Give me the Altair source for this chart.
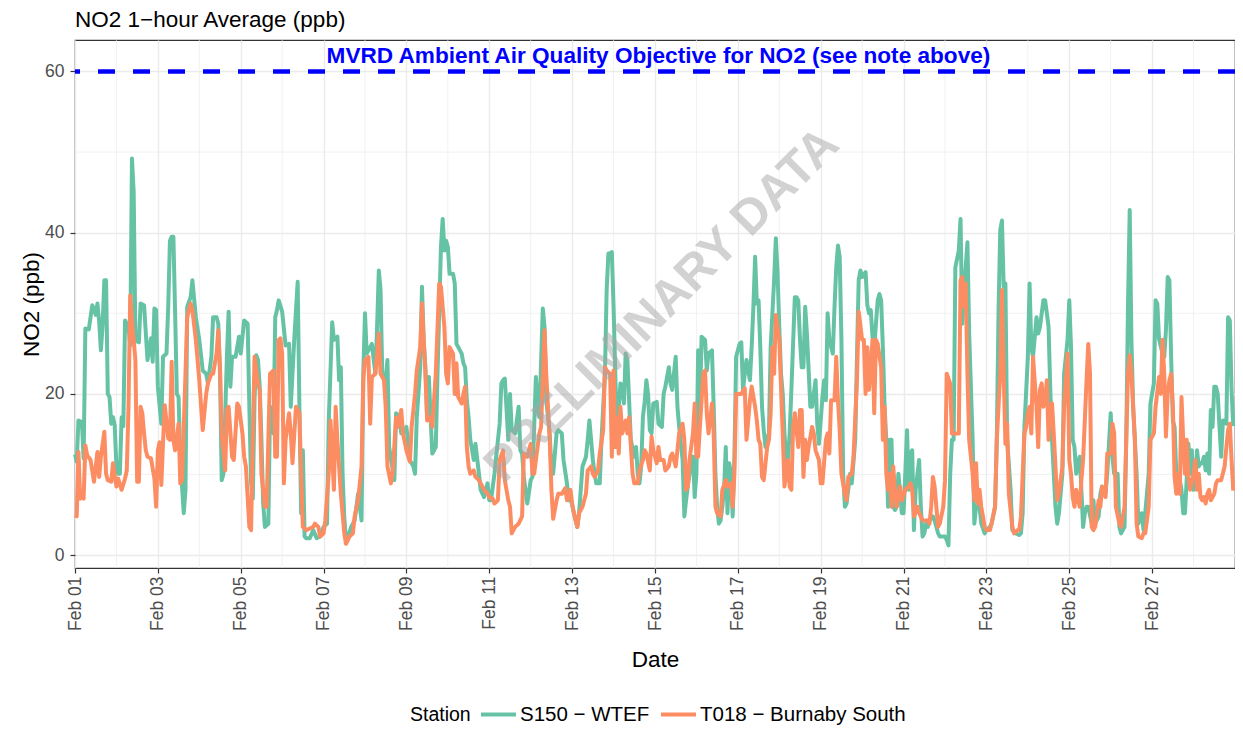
import altair as alt
import pandas as pd

# ---------------- data ----------------
station_names = ["S150 − WTEF", "T018 − Burnaby South"]
station_colors = ["#66C2A5", "#FC8D62"]

# hours since Feb 01 00:00, and NO2 (ppb)
s150_hours = [0, 1, 2, 4, 5, 6, 8, 10, 11, 12, 13, 14, 15, 16, 17, 18, 19, 20, 21, 22, 23, 24, 25, 26, 27, 28, 29, 31, 32, 33, 34, 35, 37, 38, 40, 42, 44, 45, 46, 47, 48, 50, 51, 53, 54, 55, 56,
              57, 58, 59, 60, 61, 63, 64, 65, 67, 68, 70, 72, 74, 76, 77, 79, 80, 82, 83, 84, 85, 86, 88, 89, 90, 91, 93, 94, 95, 96, 98, 100, 101, 102, 103, 104, 105, 106, 107, 108, 109, 110, 112, 113, 114, 115, 116, 117, 118, 120,
              122, 124, 125, 126, 127, 129, 130, 131, 132, 133, 134, 136, 138, 140, 142, 144, 146, 147, 149, 150, 152, 153, 154, 155, 156, 157, 158, 160, 162, 164, 166, 167, 168, 169, 170, 172, 174, 175, 176, 177, 178, 180, 181, 182, 183,
              185, 186, 188, 189, 191, 192, 194, 196, 197, 198, 200, 201, 202, 203, 204, 205, 206, 207, 209, 210, 212, 213, 214, 215, 216, 217, 219, 220, 221, 222, 224, 225, 226, 227, 228, 229, 231, 232, 234, 235, 237, 239, 240, 241, 243, 244, 246, 247,
              248, 249, 251, 252, 253, 255, 257, 258, 259, 260, 262, 264, 265, 267, 268, 269, 271, 272, 273, 275, 276, 277, 279, 280, 282, 283, 285, 286, 287, 289, 291, 292, 294, 296, 297, 298, 300, 301, 302, 304, 305, 307, 308, 309, 310,
              311, 312, 313, 314, 315, 316, 317, 318, 319, 320, 321, 322, 324, 325, 326, 327, 328, 329, 330, 331, 332, 333, 334, 335, 337, 338, 340, 341, 342, 344, 345, 346, 348, 349, 350, 352, 353, 354, 355, 356, 358, 359, 360, 361, 362, 363, 365, 366, 367, 369, 370, 371, 372, 373, 374,
              375, 376, 377, 378, 379, 380, 381, 382, 383, 385, 386, 387, 388, 389, 390, 391, 392, 393, 394, 395, 396, 397, 398, 399, 400, 401, 402, 403, 405, 406, 407, 408, 409, 410, 411, 412, 413, 414, 415, 417, 418, 419, 420, 421, 422, 423, 424, 426, 427, 429, 430, 431, 433, 434, 435, 436, 437,
              439, 440, 441, 442, 443, 444, 445, 446, 447, 449, 450, 452, 453, 454, 455, 456, 458, 459, 460, 461, 462, 463, 465, 466, 467, 468, 469, 470, 471, 472, 473, 474, 475, 476, 477, 479, 480, 481, 482, 483, 484, 485, 486, 487, 489, 490, 491, 492, 493, 494, 495, 497, 498, 500, 501,
              502, 504, 505, 506, 507, 508, 509, 510, 512, 513, 514, 516, 517, 518, 520, 521, 522, 524, 525, 527, 528, 530, 531, 533, 534, 535, 536, 537, 538, 539, 540, 542, 543, 545, 547, 548, 549, 550, 552, 553, 554, 555, 557, 558, 559, 561, 562, 563, 564,
              565, 566, 568, 569, 570, 572, 573, 575, 576, 577, 578, 579, 580, 582, 583, 584, 585, 586, 587, 589, 590, 591, 593, 594, 595, 597, 598, 600, 601, 602, 604, 605, 606, 608, 609, 610, 611, 612, 613, 615, 616, 618, 619, 620, 622, 623, 625, 626, 627,
              628, 630, 631, 632, 633, 634, 635, 636, 637, 638, 639, 640, 641, 642, 643, 644, 645, 646, 647, 648, 649, 650, 651, 652, 653, 654, 655, 656, 657, 658, 659, 660, 661, 662, 663, 664, 665, 666, 667, 668, 669, 670, 671]
s150_no2 = [12.5, 11.6, 16.7, 16.5, 12, 28.1, 28, 31, 30.5, 29.8, 31.2, 29, 25.4, 28.5, 34.1, 34.1, 20, 19.6, 16.3, 17.1, 16.1, 11, 10.1, 10.1, 17.1, 16, 29.1, 28.3, 26, 49.2, 45, 26.6, 26.4, 31.2, 31, 24.2, 26.9, 24, 30.6, 30.4, 20.9, 16.3, 24.6, 25, 30.8, 39, 39.5,
            39.5, 30, 20, 19.6, 12, 5.2, 8, 30.8, 32, 34.1, 29.5, 26.7, 22.9, 22.5, 21.3, 24.6, 29.5, 29.5, 28.7, 22.5, 9.3, 10.1, 24.6, 30.2, 20.9, 24.6, 24.6, 25.8, 27.1, 25, 29.1, 28.7, 18.4, 9, 7, 19.2, 24.8, 24.2, 21, 14.3, 6.5, 3.5, 3.9, 18.4, 16, 15.1, 29.5, 30.4, 31.6, 30.2,
            26, 26.2, 18.4, 22.5, 26.7, 33.9, 18.4, 5.2, 13, 2.3, 2.1, 2.1, 3.1, 2.1, 2.3, 3.5, 3.9, 16.7, 28.9, 26.7, 27.1, 21.7, 23.3, 10.1, 4.6, 1.9, 2.1, 3.5, 4.3, 7.6, 4.3, 22.5, 30, 25, 25.4, 26.2, 22.5, 28.3, 35.3, 32.9, 22.5, 21.7, 24.2, 13.4, 12,
            9.3, 17.6, 17.1, 15.1, 15.5, 15.9, 11.8, 11, 10.1, 17.1, 23.3, 33.3, 26.7, 23.3, 17.1, 22.1, 17.1, 12.6, 13.4, 22.5, 38.2, 41.7, 37.8, 39, 38.2, 34.9, 34.9, 33.7, 26.2, 25.8, 25, 23.8, 23.3, 19.2, 17.1, 14.3, 11.8, 13.8, 10.1, 8.1, 7.2, 8.9, 6.8, 6.8, 10.1, 12.2, 16.3, 21.3,
            21.7, 21.9, 14.3, 20, 15.5, 15.1, 18.4, 13, 12.6, 9.7, 6.4, 9.3, 9.7, 22.1, 18.4, 17.1, 30.6, 28.3, 19.2, 15.1, 10.5, 10.1, 15.1, 15.5, 15.1, 11.8, 8.9, 6.8, 7.2, 5.2, 3.5, 5.2, 11, 12.2, 14.3, 16.7, 11.8, 10.1, 8.9, 8.9, 14.3, 22.5, 32.9, 37.4, 37.4,
            37.6, 30.8, 22.5, 14.3, 18.4, 21.3, 21, 18.8, 25, 24.2, 19.2, 14.3, 12.2, 13.4, 10.1, 8.9, 11, 17.1, 19, 21.7, 20, 15.5, 15.1, 18.8, 19, 16.3, 15.9, 20, 20.9, 23.3, 21.3, 20.5, 24.6, 18.4, 15.9, 11.8, 4.8, 6.8, 8.5, 10.1, 12.2, 7.2, 10.1, 25.4, 18.4, 27.1, 26.7, 22.9, 25, 25.4, 18.4, 10.1, 6, 3.9, 4.3,
            6, 8.1, 13.4, 5.2, 11.4, 10.1, 4.8, 12, 24.6, 26.2, 26.4, 20.5, 22.5, 24.2, 22.9, 21.7, 25.8, 30.8, 37, 31.2, 31.6, 25.8, 18.4, 15.5, 13.4, 14.3, 15.1, 25.8, 34.1, 39.3, 35, 28.3, 22.5, 20, 15.1, 11.8, 11.8, 15.1, 20.5, 32, 32, 31.6, 26.7, 23.3, 23.3, 30.8, 27.5, 18.4, 18.4, 21.7, 16.3, 13.8, 19.6, 21.7, 19.2, 30, 26.7,
            25, 30.8, 35.7, 38.4, 37, 26.7, 10.1, 6, 6.4, 10.1, 8.9, 14.3, 24.6, 34.1, 35.3, 34.5, 35.1, 31, 30, 30.4, 27.1, 25.8, 31.6, 32.4, 31.6, 25.8, 18.4, 14.3, 6, 14.3, 14.3, 6, 5.6, 6, 10.1, 5.2, 5.2, 10.1, 15.5, 8.1, 12.6, 13, 3.1, 8.1, 11.8, 6, 2.3, 2.7, 3.9, 3.5, 4.3, 4.8, 4.3, 2.7, 2.3,
            2.3, 2.3, 1.9, 1.2, 10, 14.3, 14.3, 35.7, 37.8, 41.7, 28.7, 35.7, 38.8, 27.5, 14.3, 3.9, 6, 6, 3.9, 2.7, 3.1, 3.5, 3.9, 6, 14.3, 30, 40.3, 41.5, 33.3, 33.7, 14.3, 8.1, 3.1, 2.7, 2.5, 2.7, 5.2, 15.9, 24.6, 33.7, 25.8, 24.6, 29.5, 27.5, 28.3, 31.6, 31.6, 30, 28.3,
            20.5, 14.3, 6, 3.9, 5.2, 10.1, 22.5, 26.7, 31.6, 25.8, 14.3, 13.4, 10.1, 12.2, 8.1, 3.5, 5.2, 6, 6, 3.9, 6.8, 3.9, 4.8, 7.6, 8.5, 7.6, 10.1, 17.6, 12.2, 10.1, 10.1, 3.5, 2.7, 3.5, 14.3, 30.8, 42.8, 26.7, 18.4, 10.1, 3.9, 5.2, 3.1, 5.2, 10.1, 18.8, 21.3, 31.6, 31.2,
            26.8, 25, 24.6, 27.9, 34.5, 34.1, 24.6, 16.7, 15.9, 10.1, 9.3, 9.3, 8.1, 5.2, 5.2, 9.3, 13.8, 10.1, 13, 8.1, 8.5, 13, 11, 11.4, 11.4, 12.2, 10.5, 12.6, 10.1, 18, 15.9, 20.9, 20.9, 20, 15.9, 12.2, 16.7, 16.7, 16.3, 29.5, 29.1, 20.5, 16]

t018_hours = [0, 1, 2, 3, 4, 5, 6, 7, 9, 11, 13, 14, 15, 17, 18, 19, 21, 22, 24, 25, 27, 29, 30, 31, 32, 33, 35, 36, 37, 38, 39, 40, 41, 42, 44, 46, 47, 48, 49, 50, 51, 52, 54, 55, 56,
              57, 58, 60, 61, 62, 64, 65, 67, 68, 70, 72, 74, 76, 77, 79, 80, 82, 83, 84, 85, 87, 88, 89, 91, 92, 94, 95, 97, 98, 99, 101, 102, 103, 104, 106, 107, 108, 110, 111, 113, 115, 116, 117, 118, 119, 120,
              121, 122, 124, 125, 126, 128, 130, 131, 132, 134, 136, 138, 139, 141, 142, 144, 145, 147, 148, 150, 151, 152, 154, 156, 157, 159, 161, 162, 164, 166, 167, 168, 170, 171, 172, 174, 175, 176, 177, 179, 180, 181,
              183, 184, 186, 187, 189, 190, 192, 194, 195, 197, 198, 200, 201, 202, 203, 204, 206, 207, 209, 211, 212, 214, 215, 216, 217, 219, 220, 221, 222, 224, 225, 226, 227, 228, 229, 231, 232, 234, 235, 237, 239, 240, 242, 243, 245, 246, 248,
              249, 251, 252, 253, 255, 257, 259, 260, 262, 264, 265, 266, 267, 269, 270, 272, 273, 275, 276, 277, 279, 280, 282, 284, 285, 287, 288, 289, 291, 292, 294, 296, 297, 299, 300, 301, 303, 304, 306, 307, 308, 310, 311,
              312, 313, 314, 315, 316, 317, 319, 320, 321, 323, 324, 326, 327, 329, 330, 331, 333, 334, 335, 337, 338, 339, 341, 342, 344, 345, 346, 348, 349, 350, 352, 353, 354, 355, 356, 358, 359, 360, 361, 362, 364, 365, 366, 367, 369, 370, 371, 372, 374,
              375, 377, 378, 380, 381, 382, 383, 385, 386, 388, 389, 391, 392, 394, 395, 396, 397, 398, 399, 401, 402, 403, 404, 405, 406, 407, 408, 409, 410, 411, 412, 413, 414, 415, 416, 417, 419, 420, 421, 422, 423, 424, 425, 427, 428, 429, 431, 432, 433, 435, 436, 437,
              438, 440, 441, 442, 443, 444, 446, 447, 448, 450, 451, 453, 454, 456, 457, 458, 459, 460, 461, 462, 463, 464, 465, 467, 468, 469, 470, 471, 472, 473, 474, 475, 476, 478, 479, 481, 483, 484, 485, 486, 488, 489, 491, 492, 494, 495, 496, 497, 498, 500, 501,
              503, 504, 505, 507, 508, 510, 511, 512, 513, 514, 515, 516, 517, 518, 520, 521, 522, 523, 524, 525, 527, 528, 530, 531, 533, 534, 536, 537, 538, 539, 540, 541, 543, 544, 546, 547, 548, 550, 551, 552, 553, 554, 555, 557, 558, 559, 560, 561, 562, 563, 564,
              565, 566, 567, 569, 570, 572, 573, 575, 576, 577, 578, 579, 580, 582, 583, 584, 586, 587, 588, 589, 590, 591, 593, 594, 595, 597, 598, 600, 601, 602, 603, 605, 606, 608, 609, 610, 611, 612, 614, 615, 616, 618, 619, 620, 622, 623, 625, 626, 628,
              629, 630, 631, 632, 633, 634, 635, 636, 637, 638, 639, 640, 641, 642, 643, 644, 645, 646, 648, 649, 650, 651, 652, 653, 654, 655, 656, 657, 658, 660, 661, 662, 663, 664, 666, 667, 668, 669, 670, 671]
t018_no2 = [5, 4.8, 12.8, 7, 7.6, 7, 13.6, 12.4, 11.8, 9.1, 12.8, 9.7, 12.2, 15.3, 10.1, 9.3, 9.1, 11.4, 8.5, 9.5, 8.1, 9.5, 10.5, 18.4, 32.2, 29.1, 24.2, 9.1, 9.1, 18.4, 17.6, 15.1, 13, 12.2, 12, 9.5, 6, 13, 14, 8.7, 14, 18.6, 14.5, 14.3, 24,
            14.3, 13, 16.3, 8.9, 9.3, 22.5, 29.5, 31.2, 30.4, 26.7, 21.7, 15.5, 20, 21.3, 22.5, 22.5, 25, 27.9, 23.3, 15.1, 10.5, 18, 18.4, 12.2, 11.8, 18.8, 18.4, 15.1, 12.2, 11, 3.5, 3.1, 14.3, 24.6, 21.3, 20.5, 10.1, 6, 6, 22.5, 22.9, 12.2, 12.2, 26.7, 26.9, 25,
            8.9, 14.3, 17.6, 15.1, 11.4, 18.4, 17.6, 10.1, 3.5, 3.1, 3.3, 3.5, 3.9, 3.5, 2.3, 2.7, 4.3, 10.1, 16.7, 8.1, 18.4, 14.3, 7.6, 2.7, 1.4, 2.3, 2.7, 4.8, 6.8, 11, 21.7, 24.2, 24.6, 16.3, 22.1, 22.5, 25, 27.5, 22.5, 21.7, 18.4, 11,
            8.9, 10.1, 17.1, 15.9, 18, 15.1, 13, 11.6, 15.9, 20, 22.9, 25.8, 31.2, 26.7, 22.5, 16.7, 17.1, 15.9, 22.5, 33.7, 33.3, 28.3, 22.5, 21.3, 25.8, 25, 20, 23.8, 19.6, 18.8, 20, 20.9, 13.4, 11, 10.1, 10.5, 9.7, 9.3, 8.9, 8.1, 7.6, 7.2, 7, 6.4, 6.8, 11.8, 13,
            9.3, 6.8, 6, 2.7, 3.5, 3.9, 4.8, 12.6, 12.2, 13.8, 10.1, 10.1, 11.8, 15.1, 15.9, 27.9, 22.5, 14.3, 8.1, 4.5, 6.8, 7.6, 7.6, 8.3, 6.8, 8.1, 6.4, 5.2, 3.5, 5.2, 6, 7.6, 10.5, 11, 10.1, 9.7, 10.5, 12.6, 15.5, 23.3, 22.9, 22.5, 12.2,
            22.9, 13.4, 17.1, 12.6, 18.4, 15.1, 16.7, 15.1, 17.1, 10.1, 8.9, 8.9, 10.5, 11.8, 13, 12.6, 10.5, 14.7, 13, 11.4, 13.4, 11.8, 11.8, 10.5, 11, 12.2, 12.6, 11, 13, 15.1, 16.3, 14.3, 8.1, 8.5, 11.8, 15.1, 18.8, 12.2, 12.2, 15.9, 22.5, 22.9, 17.6, 15.1, 18.8, 15.1, 6, 5.2, 4.8,
            8.1, 9.3, 8.5, 8.9, 6, 10.1, 20, 20, 20, 20.7, 14.3, 19.2, 20.9, 18.4, 16.7, 14.3, 13.8, 9.7, 9.3, 13.4, 14.3, 17.6, 25.8, 22.5, 29.8, 28.3, 26.7, 20.9, 15.1, 8.5, 10.1, 11.8, 8.5, 8.1, 15.9, 17.6, 13.4, 18, 18, 9.7, 14.3, 11.8, 13.4, 15.9, 15.1, 13, 11.8, 8.9, 8.9, 14.3, 15.1, 12.6,
            19.2, 19.2, 24.6, 19.2, 15.5, 10.1, 7.6, 6.8, 9.7, 10.1, 12.2, 21.7, 30.2, 26.7, 26.7, 20, 25.8, 20.5, 23.3, 26.7, 17.6, 26.7, 26.2, 23.3, 14.3, 18.4, 10.1, 8.1, 10.1, 6, 11, 8.1, 6, 8.5, 6.8, 8.1, 8.5, 8.9, 8.1, 4.8, 6, 5.2, 4.3, 4.3, 4.3, 3.9, 6, 9.7, 8.5, 3.5, 3.9,
            6, 9.3, 22.5, 21.3, 15.1, 15.1, 15.1, 15.1, 34.1, 34.5, 30.8, 33.7, 22.5, 14.3, 10.1, 6.8, 11.4, 6.4, 8.1, 6, 3.5, 3.1, 3.1, 3.9, 6, 14.3, 22.5, 32.9, 22.5, 13.8, 16.3, 7.6, 3.5, 2.7, 3.1, 3.1, 4.8, 15.1, 15.9, 17.6, 18.4, 15.1, 24.6, 18.4, 13.4, 20.5, 21.3, 18.4, 19.2, 21.7, 14.3,
            18.4, 18.8, 15.1, 6.8, 7.6, 11, 18.4, 25, 11.8, 10.1, 7.2, 6, 8.1, 6, 9.3, 11.8, 21.7, 26.2, 22.5, 3.5, 3.1, 3.5, 6.8, 6, 8.5, 7.2, 12.6, 12.6, 16.3, 15.1, 6, 3.9, 3.5, 6, 14.3, 22.5, 24.8, 22.5, 14.3, 3.9, 2.3, 2.1, 2.7, 2.7, 6, 14.3, 15.1, 18.4, 22.1,
            20, 26.7, 22.5, 14.7, 20, 21.7, 22.5, 18.4, 9.7, 7.6, 10.1, 7.6, 19.6, 14.3, 10.1, 14.3, 9.7, 8.1, 10.1, 11.8, 8.1, 10.1, 7.2, 6.8, 7.2, 6.4, 7.6, 8.1, 6.8, 7.6, 8.9, 9.3, 9.3, 9.3, 11, 13.4, 15.5, 16.3, 11.8, 8]

major_days = list(range(1, 28, 2))     # labelled ticks: Feb 01 ... Feb 27
minor_days = list(range(2, 29, 2))     # minor grid: Feb 02 ... Feb 28
y_major = [0, 20, 40, 60]
y_minor = [10, 30, 50]
objective_value = [60]
objective_label = "MVRD Ambient Air Quality Objective for NO2 (see note above)"
objective_label_pos = [338, 61.9]      # hours since Feb 01, ppb
watermark_text = "PRELIMINARY DATA"
watermark_pos = [340, 31]              # hours since Feb 01, ppb
chart_title = "NO2 1−hour Average (ppb)"

# ---------------- build tables ----------------
start = pd.Timestamp("2024-02-01")


def hours_to_iso(hours):
    return [(start + pd.Timedelta(hours=h)).strftime("%Y-%m-%dT%H:%M:%S") for h in hours]


def day_iso(d):
    return f"2024-02-{d:02d}T00:00:00"


df_s150 = pd.DataFrame({"time": hours_to_iso(s150_hours), "value": s150_no2, "Station": station_names[0]})
df_t018 = pd.DataFrame({"time": hours_to_iso(t018_hours), "value": t018_no2, "Station": station_names[1]})
df_minor_x = pd.DataFrame({"time": [day_iso(d) for d in minor_days]})
df_minor_y = pd.DataFrame({"value": y_minor})
df_obj = pd.DataFrame({"value": objective_value})
df_obj_label = pd.DataFrame({"time": hours_to_iso([objective_label_pos[0]]), "value": [objective_label_pos[1]], "label": [objective_label]})
df_wm = pd.DataFrame({"time": hours_to_iso([watermark_pos[0]]), "value": [watermark_pos[1]], "label": [watermark_text]})

FONT = "Liberation Sans"
PLOT_W = 1160
PLOT_H = 528

x_axis = alt.Axis(
    values=[alt.DateTime(year=2024, month=2, date=d) for d in major_days],
    format="%b %d", labelAngle=270, labelFontSize=17.5, labelColor="#4D4D4D",
    labelPadding=3, labelFlush=False, labelOverlap=False,
    tickColor="#333333", tickSize=5, tickWidth=1.2, domain=False,
    grid=True, gridColor="#EBEBEB", gridWidth=1.4,
    title="Date", titleFontSize=22.5, titleFontWeight="normal", titleColor="black",
    titleX=PLOT_W / 2, titleY=98, titleAlign="center", titleBaseline="alphabetic",
)
y_axis = alt.Axis(
    values=y_major, labelFontSize=17.5, labelColor="#4D4D4D", labelPadding=6,
    tickColor="#333333", tickSize=5, tickWidth=1.2, domain=False,
    grid=True, gridColor="#EBEBEB", gridWidth=1.4,
    title="NO2 (ppb)", titleFontSize=22.5, titleFontWeight="normal", titleColor="black",
    titleAngle=270, titleX=-37, titleY=PLOT_H / 2, titleAlign="center", titleBaseline="alphabetic",
)

x_enc = alt.X("time:T", axis=x_axis,
              scale=alt.Scale(domain=[alt.DateTime(year=2024, month=2, date=1),
                                      alt.DateTime(year=2024, month=2, date=29)], nice=False))
y_enc = alt.Y("value:Q", axis=y_axis, scale=alt.Scale(domain=[-1.6, 63.9], nice=False, zero=False))
color_enc = alt.Color(
    "Station:N",
    scale=alt.Scale(domain=station_names, range=station_colors),
    legend=alt.Legend(
        title="Station", orient="none", legendX=335, legendY=655, direction="horizontal",
        titleOrient="left", titleFontSize=19.5, titleFontWeight="normal", titleColor="black",
        titlePadding=8, titleBaseline="line-top", titleLineHeight=10.5, titleAnchor="middle",
        labelFontSize=20.5, labelColor="black", labelOffset=2, columnPadding=3, labelLimit=400,
        symbolType="stroke", symbolSize=1225, symbolStrokeWidth=4,
    ),
)

minor_x = alt.Chart(df_minor_x).mark_rule(color="#EBEBEB", strokeWidth=0.7).encode(x=x_enc)
minor_y = alt.Chart(df_minor_y).mark_rule(color="#EBEBEB", strokeWidth=0.7).encode(y=y_enc)
obj_line = alt.Chart(df_obj).mark_rule(color="blue", strokeWidth=4.5, strokeDash=[17, 18]).encode(y=y_enc)
line_s150 = alt.Chart(df_s150).mark_line(strokeWidth=4, strokeJoin="round").encode(x=x_enc, y=y_enc, color=color_enc)
line_t018 = alt.Chart(df_t018).mark_line(strokeWidth=4, strokeJoin="round").encode(x=x_enc, y=y_enc, color=color_enc)
obj_text = alt.Chart(df_obj_label).mark_text(
    fontSize=22.6, fontWeight="bold", color="blue", align="center", baseline="middle", font=FONT
).encode(x=x_enc, y=y_enc, text="label:N")
wm_text = alt.Chart(df_wm).mark_text(
    fontSize=49, fontWeight="bold", color="#A6A6A6", opacity=0.5, angle=315,
    align="center", baseline="middle", font=FONT
).encode(x=x_enc, y=y_enc, text="label:N")

chart = (
    alt.layer(minor_x, minor_y, obj_line, line_s150, line_t018, obj_text, wm_text)
    .properties(
        width=PLOT_W, height=PLOT_H,
        padding={"left": 67, "top": 32, "right": 0, "bottom": 161},
        autosize=alt.AutoSizeParams(type="none"),
        title=alt.TitleParams(chart_title, anchor="start", frame="group", fontSize=22.5,
                              fontWeight="normal", color="black", offset=8, font=FONT),
    )
    .configure(font=FONT)
    .configure_view(stroke="#333333", strokeWidth=1.2)
)

chart.save("out.html", embed_options={"renderer": "svg", "actions": False})
